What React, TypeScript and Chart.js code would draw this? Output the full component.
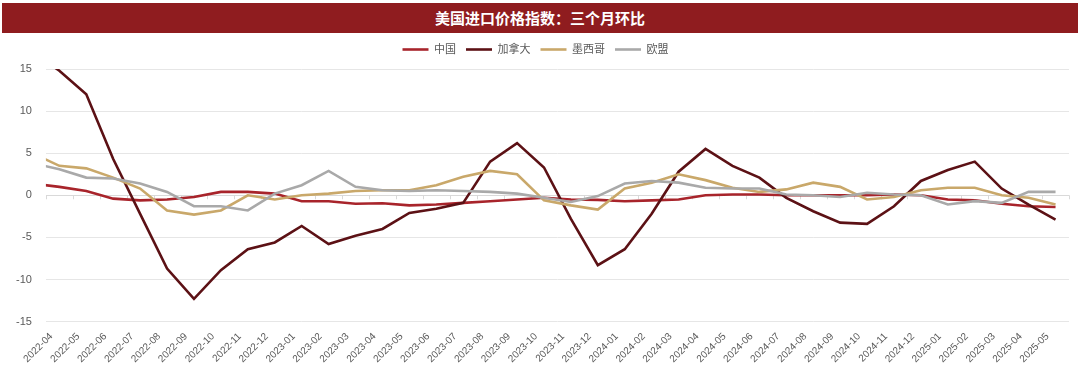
import React, { useEffect, useRef } from 'react';
import { Chart, registerables } from 'chart.js';

Chart.register(...registerables);

// first entry (2022-03) lies just left of the visible axis range; only its clipped segment shows
const months = [
  '2022-03', '2022-04', '2022-05', '2022-06', '2022-07', '2022-08', '2022-09', '2022-10', '2022-11', '2022-12',
  '2023-01', '2023-02', '2023-03', '2023-04', '2023-05', '2023-06', '2023-07', '2023-08', '2023-09', '2023-10',
  '2023-11', '2023-12', '2024-01', '2024-02', '2024-03', '2024-04', '2024-05', '2024-06', '2024-07', '2024-08',
  '2024-09', '2024-10', '2024-11', '2024-12', '2025-01', '2025-02', '2025-03', '2025-04', '2025-05',
];

const china = [
  1.4, 1.0, 0.5, -0.4, -0.6, -0.5, -0.2, 0.4, 0.4, 0.2,
  -0.7, -0.7, -1.0, -0.95, -1.2, -1.1, -0.9, -0.7, -0.5, -0.3,
  -0.5, -0.55, -0.7, -0.6, -0.5, 0.0, 0.1, 0.1, 0.0, 0.0,
  0.0, 0.0, 0.1, 0.0, -0.5, -0.6, -1.0, -1.3, -1.4,
];

const canada = [
  17.0, 14.8, 12.0, 4.3, -2.2, -8.7, -12.3, -8.9, -6.4, -5.6,
  -3.65, -5.8, -4.8, -4.0, -2.1, -1.6, -0.9, 4.0, 6.2, 3.3,
  -2.8, -8.3, -6.4, -2.2, 2.8, 5.5, 3.5, 2.1, -0.3, -1.9,
  -3.25, -3.4, -1.3, 1.7, 3.0, 4.0, 0.8, -1.1, -2.9,
];

const mexico = [
  5.0, 3.5, 3.2, 2.1, 0.8, -1.8, -2.3, -1.8, 0.0, -0.5,
  0.0, 0.2, 0.5, 0.6, 0.6, 1.2, 2.2, 2.9, 2.5, -0.6,
  -1.2, -1.7, 0.8, 1.5, 2.5, 1.8, 0.9, 0.4, 0.7, 1.5,
  1.0, -0.5, -0.2, 0.6, 0.9, 0.9, 0.0, -0.3, -1.1,
];

const eu = [
  3.8, 3.1, 2.1, 2.0, 1.4, 0.4, -1.3, -1.3, -1.8, 0.2,
  1.2, 2.9, 1.0, 0.6, 0.5, 0.6, 0.5, 0.4, 0.2, -0.3,
  -0.8, -0.1, 1.4, 1.7, 1.5, 0.9, 0.8, 0.8, 0.1, 0.0,
  -0.2, 0.3, 0.1, 0.0, -1.1, -0.7, -0.9, 0.4, 0.4,
];

const seriesNames = ['中国', '加拿大', '墨西哥', '欧盟'];
const yTicks = [-15, -10, -5, 0, 5, 10, 15];
const titleText = '美国进口价格指数：三个月环比';

const toPoints = (vals: number[]) => vals.map((v, i) => ({ x: i - 1, y: v }));

const zeroTicks = {
  id: 'zeroTicks',
  beforeDatasetsDraw(chart: any) {
    const xs = chart.scales.x;
    const ys = chart.scales.y;
    const ctx = chart.ctx;
    const y0 = ys.getPixelForValue(0);
    ctx.save();
    ctx.strokeStyle = '#D9D9D9';
    ctx.lineWidth = 1;
    for (let k = 0; k <= months.length - 1; k++) {
      const px = Math.round(xs.getPixelForValue(k - 0.5)) + 0.5;
      ctx.beginPath();
      ctx.moveTo(px, y0);
      ctx.lineTo(px, y0 + 4);
      ctx.stroke();
    }
    ctx.restore();
  },
};

const legendGap = {
  id: 'legendGap',
  beforeInit(chart: any) {
    const lg = chart.legend;
    if (!lg) return;
    const originalFit = lg.fit;
    lg.fit = function fit() {
      originalFit.bind(lg)();
      this.height += 4;
    };
  },
};

export default function App() {
  const ref = useRef<HTMLCanvasElement>(null);

  useEffect(() => {
    if (!ref.current) return;
    const colors = ['#A8242B', '#5C1115', '#C9A86A', '#A9A9A9'];
    const data = [china, canada, mexico, eu];
    const chart = new Chart(ref.current, {
      type: 'line',
      data: {
        datasets: data.map((d, i) => ({
          label: seriesNames[i],
          data: toPoints(d),
          borderColor: colors[i],
          backgroundColor: colors[i],
          borderWidth: 2.6,
          pointRadius: 0,
          tension: 0,
          order: 4 - i,
        })),
      },
      options: {
        animation: false,
        responsive: false,
        maintainAspectRatio: false,
        layout: { padding: { left: 2, right: 11, top: 34, bottom: 6 } },
        font: { family: '"Liberation Sans", "Noto Sans CJK SC", sans-serif' },
        plugins: {
          legend: {
            position: 'top',
            labels: {
              usePointStyle: true,
              pointStyle: 'line',
              pointStyleWidth: 26,
              boxHeight: 11,
              padding: 10,
              color: '#595959',
              font: { size: 11, family: '"Liberation Sans", "Noto Sans CJK SC", sans-serif' },
              sort: (a: any, b: any) => a.datasetIndex - b.datasetIndex,
            },
          },
          tooltip: { enabled: false },
        },
        scales: {
          x: {
            type: 'linear',
            min: -0.5,
            max: months.length - 1.5,
            grid: { display: false },
            border: { display: false },
            afterBuildTicks: (axis: any) => {
              axis.ticks = months.slice(1).map((_, i) => ({ value: i }));
            },
            ticks: {
              autoSkip: false,
              minRotation: 45,
              maxRotation: 45,
              color: '#595959',
              font: { size: 10 },
              padding: 1,
              labelOffset: -8,
              callback: (v: any) => months[Number(v) + 1] ?? '',
            },
          },
          y: {
            min: -15,
            max: 15,
            afterBuildTicks: (axis: any) => {
              axis.ticks = yTicks.map((v) => ({ value: v }));
            },
            grid: {
              color: (c: any) => (c.tick && c.tick.value === 0 ? '#D9D9D9' : '#E6E6E6'),
              lineWidth: 1,
              drawTicks: false,
            },
            border: { display: false },
            ticks: {
              color: '#595959',
              font: { size: 11 },
              padding: 14,
            },
          },
        },
      },
      plugins: [zeroTicks, legendGap],
    });
    return () => chart.destroy();
  }, []);

  return (
    <div style={{ position: 'fixed', left: 0, top: 0, width: 1080, height: 372, background: '#fff' }}>
      <canvas ref={ref} width={1080} height={372} style={{ position: 'absolute', left: 0, top: 0, width: 1080, height: 372 }} />
      <div
        style={{
          position: 'absolute',
          left: 2,
          top: 3,
          width: 1076,
          height: 30,
          background: '#8F1C1F',
          color: '#fff',
          fontFamily: '"Noto Sans CJK SC", sans-serif',
          fontWeight: 700,
          fontSize: 15,
          lineHeight: '30px',
          textAlign: 'center',
        }}
      >
        {titleText}
      </div>
    </div>
  );
}
